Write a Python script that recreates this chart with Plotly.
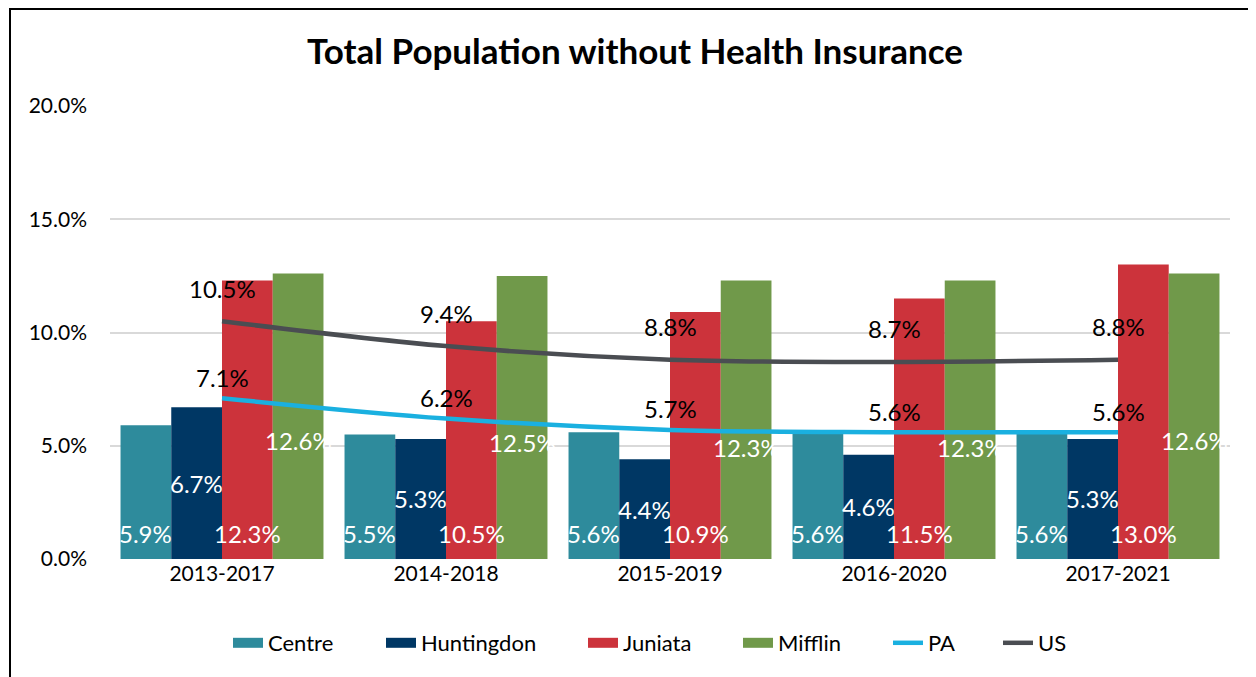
import plotly.graph_objects as go

periods = ["2013-2017", "2014-2018", "2015-2019", "2016-2020", "2017-2021"]
centre = [0.059, 0.055, 0.056, 0.056, 0.056]
huntingdon = [0.067, 0.053, 0.044, 0.046, 0.053]
juniata = [0.123, 0.105, 0.109, 0.115, 0.130]
mifflin = [0.126, 0.125, 0.123, 0.123, 0.126]
pa = [0.071, 0.062, 0.057, 0.056, 0.056]
us = [0.105, 0.094, 0.088, 0.087, 0.088]

FONT = "Lato"
# page body has an 8px margin, so the figure is drawn a bit smaller
W, H = 1248, 669
ML, MR, MT, MB = 102, 26, 98, 118
PW, PH = W - ML - MR, H - MT - MB

# each legend entry gets its own legend box so the spacing follows the original
legend_text_x = [270, 423, 625, 780, 930, 1040]
leg_ids = ["legend", "legend2", "legend3", "legend4", "legend5", "legend6"]

fig = go.Figure()

bars = [("Centre", centre, "#2E8B9C"), ("Huntingdon", huntingdon, "#003764"),
        ("Juniata", juniata, "#CC333B"), ("Mifflin", mifflin, "#70994A")]
for k, (name, vals, col) in enumerate(bars):
    fig.add_trace(go.Bar(x=periods, y=vals, name=name, marker_color=col,
                         marker_line_width=0, showlegend=False))
    # wide rectangle legend swatch like the Excel original
    fig.add_trace(go.Scatter(x=[None], y=[None], mode="lines", name=name,
                             line=dict(color=col, width=14), legend=leg_ids[k]))

fig.add_trace(go.Scatter(x=periods, y=pa, name="PA", mode="lines", legend=leg_ids[4],
                         line=dict(color="#1AB0E0", width=4.5, shape="spline")))
fig.add_trace(go.Scatter(x=periods, y=us, name="US", mode="lines", legend=leg_ids[5],
                         line=dict(color="#4A4D52", width=4.5, shape="spline")))

ann = []
lbl = dict(color="white", size=24, family=FONT)
blk = dict(color="black", size=24, family=FONT)
bw = PW / len(periods) * 0.906 / 4
for i, p in enumerate(periods):
    # bar labels (Excel style placement)
    ann.append(dict(x=p, y=0, text=f"{centre[i]*100:.1f}%", xshift=-1.5 * bw,
                    yshift=26, showarrow=False, font=lbl))
    ann.append(dict(x=p, y=huntingdon[i] / 2, text=f"{huntingdon[i]*100:.1f}%",
                    xshift=-0.5 * bw, showarrow=False, font=lbl))
    ann.append(dict(x=p, y=0, text=f"{juniata[i]*100:.1f}%", xshift=0.5 * bw,
                    yshift=26, showarrow=False, font=lbl))
    ann.append(dict(x=p, y=mifflin[i], text=f"{mifflin[i]*100:.1f}%", xshift=1.5 * bw,
                    yshift=-167, showarrow=False, font=lbl))
    # line labels
    ann.append(dict(x=p, y=us[i], text=f"{us[i]*100:.1f}%", yshift=33,
                    showarrow=False, font=blk))
    ann.append(dict(x=p, y=pa[i], text=f"{pa[i]*100:.1f}%", yshift=21,
                    showarrow=False, font=blk))

# outer chart border (left and top edges visible)
shapes = [dict(type="rect", xref="paper", yref="paper",
               x0=(2 - ML) / PW, x1=(W + 10 - ML) / PW,
               y0=-(MB + 10) / PH, y1=(PH + MT - 1) / PH,
               line=dict(color="black", width=2))]

legends = {}
for lid, tx in zip(leg_ids, legend_text_x):
    legends[lid] = dict(orientation="h", x=(tx - 8 - 42 - ML) / PW, xanchor="left",
                        y=-(635 - MT - PH) / PH, yanchor="middle",
                        font=dict(size=22, color="black"), bgcolor="rgba(0,0,0,0)")

fig.update_layout(
    width=W, height=H,
    margin=dict(l=ML, r=MR, t=MT, b=MB),
    paper_bgcolor="white", plot_bgcolor="white",
    font=dict(family=FONT, size=22, color="black"),
    title=dict(text="<b>Total Population without Health Insurance</b>",
               x=627 / W, xanchor="center", y=1 - 44 / H, yanchor="middle",
               font=dict(size=35, family=FONT, color="black")),
    barmode="group", bargap=0.094, bargroupgap=0,
    xaxis=dict(showgrid=False, showline=False, ticks="",
               tickfont=dict(size=21, color="black")),
    yaxis=dict(range=[0, 0.2], dtick=0.05, tickformat=".1%",
               gridcolor="#D9D9D9", gridwidth=1.5, zeroline=False,
               showline=False, ticklabelstandoff=22,
               tickfont=dict(size=21, color="black")),
    annotations=ann,
    shapes=shapes,
    **legends,
)

fig.write_html("out.html")
